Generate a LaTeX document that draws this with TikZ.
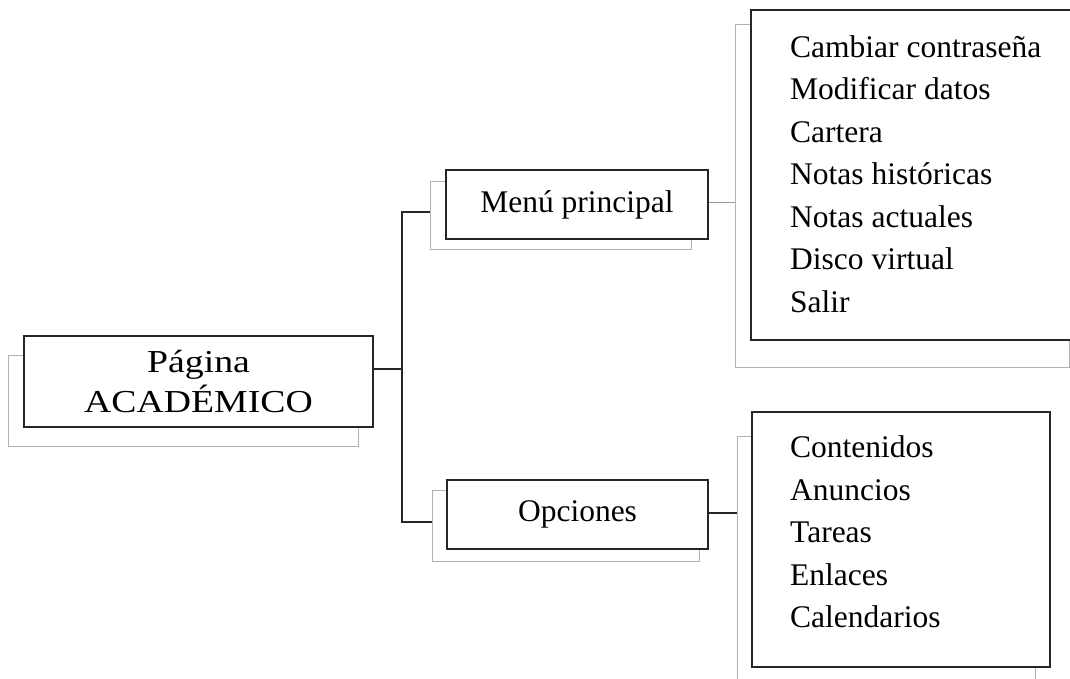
\documentclass[tikz,border=0pt]{standalone}
\usepackage{fontspec}
\setmainfont{Liberation Serif}
\newfontfamily\widefont[FakeStretch=1.18]{Liberation Serif}
\begin{document}
\begin{tikzpicture}[x=1pt,y=-1pt,
  front/.style={draw=black!85, line width=1.8pt, fill=white, rectangle, inner sep=0pt},
  shadow/.style={draw=black!30, line width=0.9pt, rectangle, inner sep=0pt},
  conn/.style={draw=black!85, line width=1.8pt},
  lightconn/.style={draw=black!40, line width=1pt},
  listtxt/.style={align=left, inner sep=0pt, anchor=north west, font=\fontsize{31.5}{42.5}\selectfont},
  boxtxt/.style={font=\fontsize{31.5}{36}\selectfont}
]
\useasboundingbox (0,0) rectangle (1070,679);
\clip (0,0) rectangle (1070,679);
\fill[white] (0,0) rectangle (1070,679);

% shadows
\node[shadow, minimum width=350pt, minimum height=91pt] (mainS) at (183,400.5) {};
\node[shadow, minimum width=261pt, minimum height=68pt] (menuS) at (560.5,215) {};
\node[shadow, minimum width=267pt, minimum height=71pt] (opcS) at (565.5,525.5) {};
\node[shadow, minimum width=334pt, minimum height=343pt] (box1S) at (902,195.5) {};
\node[shadow, minimum width=298pt, minimum height=274pt] (box2S) at (886,573) {};

% fronts
\node[front, minimum width=349pt, minimum height=91pt, align=center,
      font=\widefont\fontsize{32}{40}\selectfont] (mainF) at (198.5,381.5) {Página\\ACADÉMICO};
\node[front, boxtxt, minimum width=262pt, minimum height=69pt] (menuF) at (577,204.5) {Menú principal};
\node[front, boxtxt, minimum width=261pt, minimum height=69pt] (opcF) at (577.5,514.5) {Opciones};
\node[front, minimum width=329pt, minimum height=330pt] (box1F) at (915.5,175) {};
\node[front, minimum width=298pt, minimum height=255pt] (box2F) at (901,539.5) {};

% list texts
\node[listtxt] (list1) at (790,35) {Cambiar contraseña\\Modificar datos\\Cartera\\Notas históricas\\Notas actuales\\Disco virtual\\Salir};
\node[listtxt] (list2) at (790,435.5) {Contenidos\\Anuncios\\Tareas\\Enlaces\\Calendarios};

% connectors
\coordinate (jt) at (402,212);
\coordinate (jb) at (402,522);
\coordinate (jm) at (402,369);
\draw[conn] ([yshift=12.5pt]mainF.east) -- (jm);
\draw[conn] ([yshift=3pt]menuS.west) -- (jt) -- (jb) -- ([yshift=3.5pt]opcS.west);
\coordinate (mr) at ([yshift=2.5pt]menuF.east);
\coordinate (or) at ([yshift=1.5pt]opcF.east);
\draw[lightconn] (mr) -- (mr -| box1S.west);
\draw[conn, line width=1.5pt] (or) -- (or -| box2S.west);
\end{tikzpicture}
\end{document}
